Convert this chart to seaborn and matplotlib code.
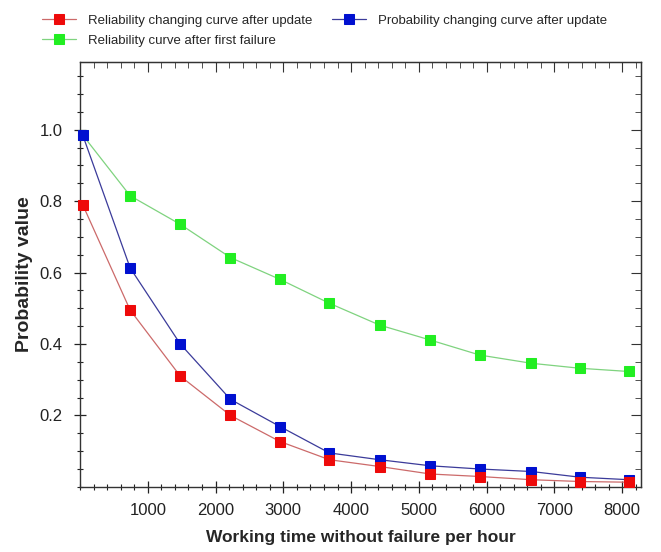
import seaborn as sns
import matplotlib.pyplot as plt
import pandas as pd
from matplotlib.ticker import MultipleLocator

# values
hours = [40, 740, 1480, 2220, 2950, 3680, 4420, 5170, 5900, 6660, 7380, 8100]
rel_update = [0.79, 0.495, 0.31, 0.20, 0.127, 0.076, 0.057, 0.036, 0.029, 0.02, 0.015, 0.013]
prob_update = [0.985, 0.613, 0.40, 0.245, 0.169, 0.095, 0.076, 0.059, 0.05, 0.043, 0.027, 0.02]
rel_first = [0.985, 0.815, 0.735, 0.642, 0.581, 0.514, 0.453, 0.411, 0.369, 0.346, 0.332, 0.323]

labels = ["Reliability changing curve after update",
          "Probability changing curve after update",
          "Reliability curve after first failure"]

df = pd.DataFrame({"hours": hours, "red": rel_update, "blue": prob_update, "green": rel_first})

sns.set_style("ticks")
plt.rcParams["font.family"] = ["Liberation Sans", "DejaVu Sans"]

fig = plt.figure(figsize=(6.61, 5.52), dpi=100)
ax = fig.add_axes([0.121, 0.118, 0.849, 0.770])

# (column, line colour, marker colour, label)
series = [
    ("green", "#7fd37f", "#22ee22", labels[2]),
    ("blue", "#3b3b9a", "#0010d0", labels[1]),
    ("red", "#cc6a6a", "#ee0a0a", labels[0]),
]
handles = {}
for col, lc, mc, lab in series:
    sns.lineplot(data=df, x="hours", y=col, ax=ax, color=lc, lw=0.9,
                 marker="s", markersize=7, markerfacecolor=mc, markeredgecolor=mc,
                 label=lab, clip_on=False, zorder=3)
    handles[lab] = ax.lines[-1]

ax.set_xlim(0, 8280)
ax.set_ylim(0, 1.19)
ax.set_xticks([1000, 2000, 3000, 4000, 5000, 6000, 7000, 8000])
ax.set_yticks([0.2, 0.4, 0.6, 0.8, 1.0])
ax.set_yticklabels(["0.2", "0.4", "0.6", "0.8", "1.0"])
ax.xaxis.set_minor_locator(MultipleLocator(200))
ax.yaxis.set_minor_locator(MultipleLocator(0.05))
ax.tick_params(which="major", direction="inout", length=9, width=0.9, labelsize=12, colors="#222222")
ax.tick_params(which="minor", direction="inout", length=5, width=0.8, colors="#222222")
ax.tick_params(axis="x", pad=7)
ax.tick_params(axis="y", pad=8)
for s in ax.spines.values():
    s.set_visible(True)
    s.set_linewidth(1.0)
    s.set_color("#333333")

top = ax.secondary_xaxis("top")
top.set_xticks(ax.get_xticks())
top.xaxis.set_minor_locator(MultipleLocator(200))
top.tick_params(which="major", direction="in", length=7, labeltop=False, colors="#333333")
top.tick_params(which="minor", direction="in", length=4, colors="#333333")
right = ax.secondary_yaxis("right")
right.set_yticks([0.2, 0.4, 0.6, 0.8, 1.0])
right.yaxis.set_minor_locator(MultipleLocator(0.05))
right.tick_params(which="major", direction="in", length=7, labelright=False, colors="#333333")
right.tick_params(which="minor", direction="in", length=4, colors="#333333")

ax.set_xlabel("Working time without failure per hour", fontsize=12.5, fontweight="bold", labelpad=9)
ax.set_ylabel("Probability value", fontsize=14, fontweight="bold", labelpad=5)

ax.get_legend().remove()
order = [labels[0], labels[2], labels[1]]
fig.legend([handles[k] for k in order], order, loc="upper left",
           bbox_to_anchor=(0.045, 0.995), ncol=2, frameon=False, fontsize=9.5,
           handlelength=2.6, handletextpad=0.9, columnspacing=1.5, labelspacing=0.6)

plt.savefig("out.png", dpi=100)
